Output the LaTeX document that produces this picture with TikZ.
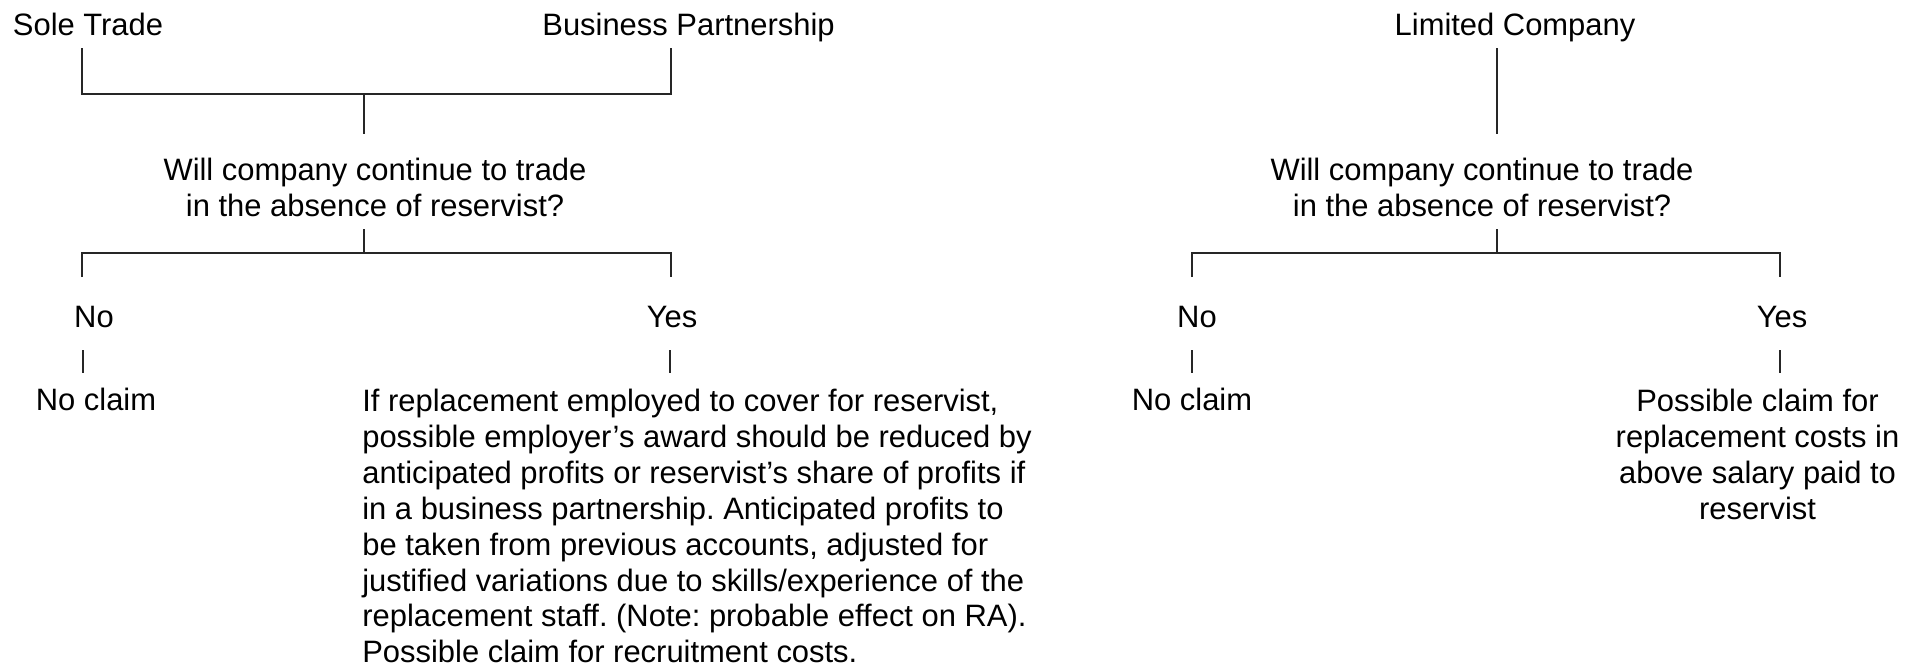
\documentclass[tikz,border=0pt]{standalone}
\usepackage{fontspec}
\setmainfont{Liberation Sans}
\usepackage{tikz}

\tikzset{
    lbl/.style={font=\fontsize{17.6pt}{20.4pt}\selectfont, inner sep=0pt},
    link/.style={line width=1pt, black!85}
}

\begin{document}
\frenchspacing
\begin{tikzpicture}
        \useasboundingbox (0,0) rectangle (38.48,-13.36);

        % Top labels
        \node[lbl, anchor=base] (sole) at (1.76,-0.70) {Sole Trade};
        \node[lbl, anchor=base] (bp) at (13.77,-0.70) {Business Partnership};
        \node[lbl, anchor=base] (lc) at (30.30,-0.70) {Limited Company};

        % Questions
        \node[lbl, anchor=north, align=center] (q1) at (7.50,-3.15) {Will company continue to trade\\in the absence of reservist?};
        \node[lbl, anchor=north, align=center] (q2) at (29.64,-3.15) {Will company continue to trade\\in the absence of reservist?};

        % Answers, left tree
        \node[lbl, anchor=base] (no1) at (1.88,-6.55) {No};
        \node[lbl, anchor=base] (yes1) at (13.44,-6.55) {Yes};
        \node[lbl, anchor=base] (nc1) at (1.92,-8.20) {No claim};
        \node[lbl, anchor=north west, align=left] (out1) at (7.24,-7.78)
            {If replacement employed to cover for reservist,\\
             possible employer’s award should be reduced by\\
             anticipated profits or reservist’s share of profits if\\
             in a business partnership. Anticipated profits to\\
             be taken from previous accounts, adjusted for\\
             justified variations due to skills/experience of the\\
             replacement staff. (Note: probable effect on RA).\\
             Possible claim for recruitment costs.};

        % Answers, right tree
        \node[lbl, anchor=base] (no2) at (23.94,-6.55) {No};
        \node[lbl, anchor=base] (yes2) at (35.64,-6.55) {Yes};
        \node[lbl, anchor=base] (nc2) at (23.84,-8.20) {No claim};
        \node[lbl, anchor=north, align=center] (out2) at (35.15,-7.78)
            {Possible claim for\\replacement costs in\\above salary paid to\\reservist};

        % Bracket points, left tree
        \coordinate (soleLeg) at (1.64,-0.96);
        \coordinate (bpLeg) at (13.42,-0.96);
        \coordinate (topL) at (1.64,-1.88);
        \coordinate (topR) at (13.42,-1.88);
        \coordinate (topMid) at (7.28,-1.88);
        \coordinate (q1In) at (7.28,-2.68);
        \coordinate (q1Out) at (7.28,-4.58);
        \coordinate (botMid) at (7.28,-5.06);
        \coordinate (botL) at (1.64,-5.06);
        \coordinate (botR) at (13.42,-5.06);
        \coordinate (noLeg) at (1.64,-5.54);
        \coordinate (yesLeg) at (13.42,-5.54);
        \coordinate (noTick) at (1.66,-7.00);
        \coordinate (noTickEnd) at (1.66,-7.46);
        \coordinate (yesTick) at (13.40,-7.00);
        \coordinate (yesTickEnd) at (13.40,-7.46);

        \draw[link] (soleLeg) -- (topL) -- (topR) -- (bpLeg);
        \draw[link] (topMid) -- (q1In);
        \draw[link] (q1Out) -- (botMid);
        \draw[link] (noLeg) -- (botL) -- (botR) -- (yesLeg);
        \draw[link] (noTick) -- (noTickEnd);
        \draw[link] (yesTick) -- (yesTickEnd);

        % Bracket points, right tree
        \coordinate (lcLeg) at (29.94,-0.96);
        \coordinate (q2In) at (29.94,-2.68);
        \coordinate (q2Out) at (29.94,-4.58);
        \coordinate (botMid2) at (29.94,-5.06);
        \coordinate (botL2) at (23.84,-5.06);
        \coordinate (botR2) at (35.60,-5.06);
        \coordinate (noLeg2) at (23.84,-5.54);
        \coordinate (yesLeg2) at (35.60,-5.54);
        \coordinate (noTick2) at (23.84,-7.00);
        \coordinate (noTick2End) at (23.84,-7.46);
        \coordinate (yesTick2) at (35.60,-7.00);
        \coordinate (yesTick2End) at (35.60,-7.46);

        \draw[link] (lcLeg) -- (q2In);
        \draw[link] (q2Out) -- (botMid2);
        \draw[link] (noLeg2) -- (botL2) -- (botR2) -- (yesLeg2);
        \draw[link] (noTick2) -- (noTick2End);
        \draw[link] (yesTick2) -- (yesTick2End);
    \end{tikzpicture}
\end{document}
